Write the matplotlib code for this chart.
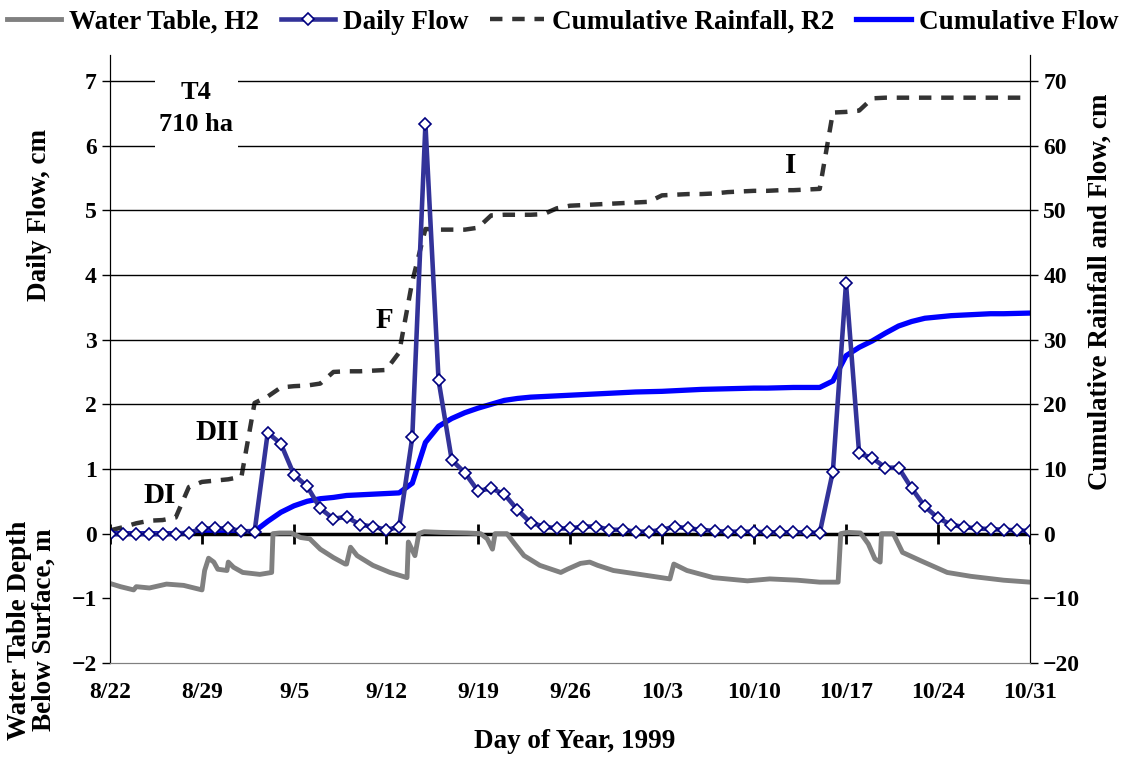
import numpy as np
import matplotlib
matplotlib.use('Agg')
import matplotlib.pyplot as plt
from matplotlib.patches import Rectangle

plt.rcParams['font.family'] = ['Liberation Serif', 'DejaVu Serif']
plt.rcParams['font.weight'] = 'bold'

# days since 8/22/1999
days = np.arange(71)
tick_days = np.arange(0, 71, 7)
tick_labels = ['8/22', '8/29', '9/5', '9/12', '9/19', '9/26', '10/3', '10/10', '10/17', '10/24', '10/31']

# daily flow, cm
daily_flow = [0, 0, 0, 0, 0, 0, 0.01,
              0.08, 0.08, 0.08, 0.04, 0.03,
              1.56, 1.39, 0.91, 0.73, 0.39, 0.23, 0.26, 0.14, 0.11, 0.06, 0.10, 1.49, 6.33, 2.37,
              1.14, 0.94, 0.66, 0.70, 0.61, 0.37, 0.17, 0.11, 0.08, 0.08, 0.11,
              0.11, 0.06, 0.06, 0.03, 0.03, 0.06, 0.11, 0.08, 0.06, 0.04, 0.03, 0.03, 0.03, 0.02, 0.02, 0.02, 0.02, 0.01,
              0.96, 3.87, 1.24, 1.17, 1.02, 1.02, 0.70, 0.42, 0.24, 0.14, 0.10, 0.08, 0.07, 0.06, 0.05, 0.04]

# cumulative flow, cm
cum_flow = [0.0, 0.0, 0.0, 0.0, 0.0, 0.0, 0.05, 0.1, 0.2, 0.25, 0.3,
            0.35, 1.9, 3.3, 4.3, 5.0, 5.4, 5.6, 5.9, 6.0, 6.1, 6.2, 6.3, 7.8, 14.1, 16.6,
            17.8, 18.7, 19.4, 20.0, 20.6, 20.9, 21.1, 21.2, 21.3, 21.4, 21.5,
            21.6, 21.7, 21.8, 21.9, 21.95, 22.0, 22.1, 22.2, 22.3, 22.35, 22.4, 22.45, 22.5, 22.5, 22.55, 22.6, 22.6, 22.6,
            23.6, 27.5, 28.8, 29.8, 31.0, 32.1, 32.8, 33.3, 33.5, 33.7, 33.8, 33.9, 34.0, 34.0, 34.05, 34.1]

# cumulative rainfall R2, cm
cum_rain = [0.5, 1.0, 1.6, 2.0, 2.1, 2.5, 7.2, 8.0, 8.2, 8.4, 8.8,
            20.2, 21.2, 22.6, 22.8, 22.9, 23.2, 25.0, 25.1, 25.1, 25.2, 25.3, 28.0, 39.0, 47.1,
            47.0, 47.0, 47.0, 47.3, 49.2, 49.3, 49.3, 49.3, 49.4, 50.3, 50.7, 50.8, 50.9, 51.0, 51.1, 51.2, 51.3,
            52.3, 52.4, 52.5, 52.5, 52.6, 52.8, 52.9, 53.0, 53.0, 53.1, 53.1, 53.2, 53.3,
            65.1, 65.2, 65.4, 67.3, 67.4, 67.4, 67.4, 67.4, 67.4, 67.4, 67.4, 67.4, 67.4, 67.4, 67.4, 67.4]

# water table H2, m below surface
wt_days = [0, 0.8, 1.8, 2.0, 3.0, 4.3, 5.6, 7.0, 7.2, 7.5, 7.9, 8.2, 8.9, 9.0, 9.4, 10.1, 11.4, 12.3,
           12.4, 12.9, 13.8, 14.5, 15.2, 16.0, 17.0, 17.9, 18.0, 18.3, 18.8, 20.0, 21.3, 22.6,
           22.7, 23.2, 23.5, 23.9, 25.1, 27.2, 28.2, 28.7, 29.1, 29.3, 30.2, 30.8, 31.5, 32.7,
           34.3, 34.8, 35.8, 36.5, 37.1, 38.3, 40.3, 42.6, 42.9, 43.9, 45.9, 48.5, 50.2, 52.3,
           54.0, 55.4, 55.6, 56.1, 57.1, 57.7, 58.2, 58.6, 58.7, 59.6, 60.3, 61.7, 63.7, 65.5, 68.0, 70.0]
wt_depth = [-0.77, -0.82, -0.87, -0.82, -0.84, -0.78, -0.80, -0.87, -0.57, -0.38, -0.44, -0.55, -0.57, -0.44, -0.52, -0.60, -0.63, -0.60,
            0.0, 0.01, 0.01, -0.06, -0.08, -0.24, -0.37, -0.47, -0.47, -0.21, -0.34, -0.49, -0.60, -0.68,
            -0.13, -0.34, 0.0, 0.03, 0.02, 0.01, 0.0, -0.08, -0.24, 0.0, 0.0, -0.16, -0.34, -0.49,
            -0.60, -0.55, -0.46, -0.44, -0.49, -0.57, -0.63, -0.70, -0.47, -0.57, -0.68, -0.73, -0.70, -0.72,
            -0.75, -0.75, 0.0, 0.02, 0.01, -0.16, -0.39, -0.44, 0.0, 0.0, -0.29, -0.42, -0.60, -0.66, -0.72, -0.75]

fig = plt.figure(figsize=(11.25, 7.57), dpi=100)
ax = fig.add_axes([110/1125, 1-663/757, 920/1125, (663-55)/757])
ax2 = ax.twinx()
ax.set_zorder(ax2.get_zorder() + 1)
ax.patch.set_visible(False)

fs = 17      # tick labels
fl = 19.5    # axis labels, legend

# right axis: cumulative series
l_rain, = ax2.plot(days, cum_rain, color='#333333', lw=3.2, dashes=(2.8, 2.2), dash_capstyle='butt',
                   label='Cumulative Rainfall, R2')
l_cum, = ax2.plot(days, cum_flow, color='#0000FF', lw=3.8, label='Cumulative Flow')

# left axis
l_wt, = ax.plot(wt_days, wt_depth, color='#808080', lw=3.5, label='Water Table, H2')
l_flow, = ax.plot(days, daily_flow, color='#333399', lw=3.3, marker='D', ms=6.5, mfc='white',
                  mec='#000080', mew=1.2, label='Daily Flow')

ax.set_xlim(0, 70)
ax.set_ylim(-2, 7.4)
ax2.set_ylim(-20, 74)
ax.set_yticks(range(-2, 8))
ax2.set_yticks(range(-20, 71, 10))
ax.tick_params(axis='y', labelsize=fs, length=6, width=1, direction='out')
ax2.tick_params(axis='y', labelsize=fs, length=6, width=1, direction='out')

# grid lines only above zero
for g in range(1, 8):
    ax.axhline(g, color='black', lw=1, zorder=0)

# zero line with crossing ticks, date labels at bottom
ax.axhline(0, color='black', lw=2.5, zorder=1)
ax.plot(tick_days, np.zeros(len(tick_days)), ls='none', marker='|', ms=14, mew=2, color='black', zorder=1)
ax.set_xticks(tick_days)
ax.set_xticklabels(tick_labels)
ax.tick_params(axis='x', labelsize=fs, length=0, pad=14)

ax.spines['bottom'].set_color('#808080')
ax2.spines['bottom'].set_color('#808080')
ax.spines['top'].set_visible(False)
ax2.spines['top'].set_visible(False)

for t in ax.get_xticklabels() + ax.get_yticklabels() + ax2.get_yticklabels():
    t.set_fontweight('bold')

# site label box (white background hides the grid lines)
ax.add_patch(Rectangle((0.049, 0.824), 0.09, 0.155, transform=ax.transAxes,
                       facecolor='white', edgecolor='none', zorder=4))
ax.text(0.094, 0.912, 'T4\n710 ha', transform=ax.transAxes, ha='center', va='center',
        fontsize=19, fontweight='bold', linespacing=1.5, zorder=5)

# event annotations
ax.text(3.8, 0.59, 'DI', ha='center', va='center', fontsize=21, fontweight='bold')
ax.text(8.2, 1.56, 'DII', ha='center', va='center', fontsize=21, fontweight='bold')
ax.text(20.9, 3.29, 'F', ha='center', va='center', fontsize=21, fontweight='bold')
ax.text(51.8, 5.69, 'I', ha='center', va='center', fontsize=21, fontweight='bold')

# axis labels
fig.text(40/1125, 1-215/757, 'Daily Flow, cm', rotation=90, ha='center', va='center',
         fontsize=fl, fontweight='bold')
fig.text(32/1125, 1-630/757, 'Water Table Depth\nBelow Surface, m', rotation=90, ha='center',
         va='center', fontsize=fl, fontweight='bold', linespacing=1.0)
fig.text(1100/1125, 1-292/757, 'Cumulative Rainfall and Flow, cm', rotation=90, ha='center',
         va='center', fontsize=fl, fontweight='bold')
fig.text(575/1125, 1-742/757, 'Day of Year, 1999', ha='center', va='center', fontsize=fl,
         fontweight='bold')

fig.legend(handles=[l_wt, l_flow, l_rain, l_cum], loc='upper center', bbox_to_anchor=(0.5, 1.005),
           ncol=4, frameon=False, handlelength=2.0, handletextpad=0.3,
           columnspacing=0.8, numpoints=1, borderaxespad=0.1,
           prop={'weight': 'bold', 'size': fl})

fig.savefig('out.png', dpi=100)
